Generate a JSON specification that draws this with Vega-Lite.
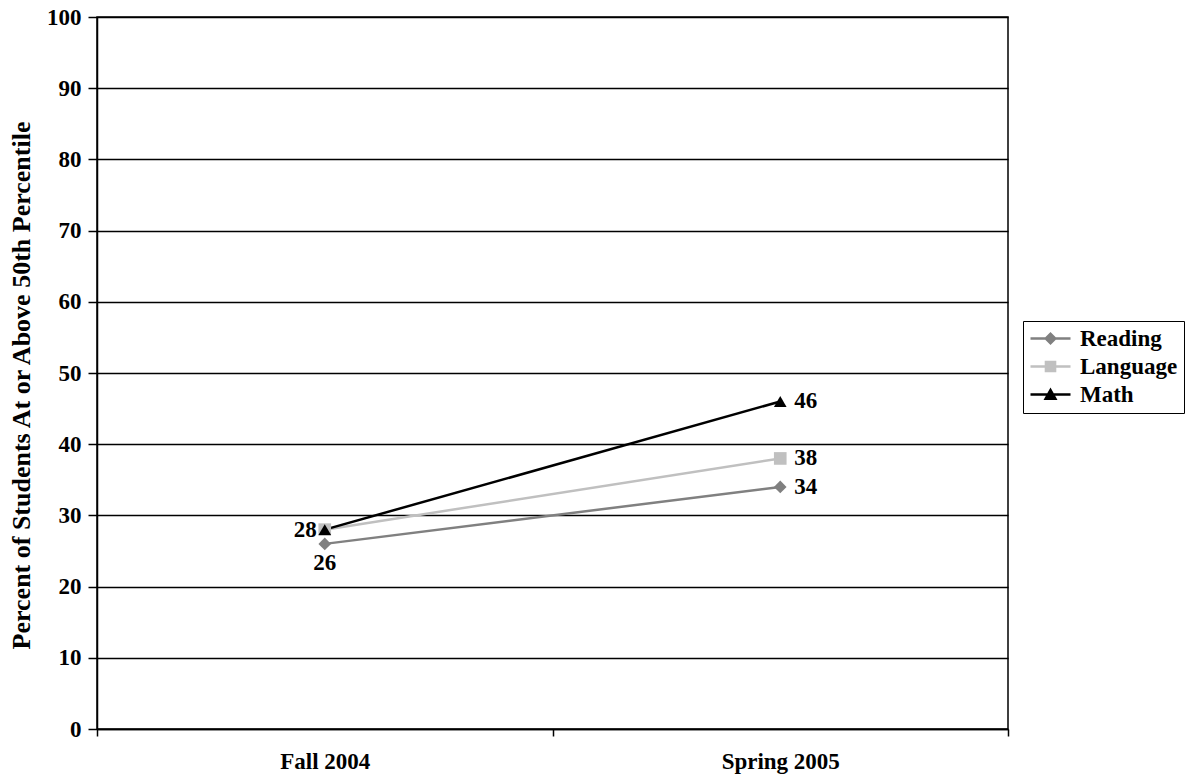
{
  "$schema": "https://vega.github.io/schema/vega-lite/v6.json",
  "width": 911,
  "height": 712,
  "autosize": {"type": "none"},
  "padding": {"left": 97, "top": 17, "right": 182, "bottom": 52},
  "background": "white",
  "config": {
    "font": "Liberation Serif",
    "view": {"stroke": "black", "strokeWidth": 1.5},
    "axis": {
      "labelFont": "Liberation Serif", "labelFontWeight": "bold", "labelFontSize": 23, "labelColor": "black",
      "titleFont": "Liberation Serif", "titleFontWeight": "bold", "titleColor": "black",
      "domainColor": "black", "domainWidth": 1.5, "tickColor": "black", "tickWidth": 1.5,
      "gridColor": "black", "gridWidth": 1.5, "gridOpacity": 1
    },
    "legend": {
      "labelFont": "Liberation Serif", "labelFontWeight": "bold", "labelFontSize": 23, "labelColor": "black"
    }
  },
  "data": {
    "values": [
      {"term": "Fall 2004", "subject": "Reading", "value": 26},
      {"term": "Spring 2005", "subject": "Reading", "value": 34},
      {"term": "Fall 2004", "subject": "Language", "value": 28},
      {"term": "Spring 2005", "subject": "Language", "value": 38},
      {"term": "Fall 2004", "subject": "Math", "value": 28},
      {"term": "Spring 2005", "subject": "Math", "value": 46}
    ]
  },
  "encoding": {
    "x": {
      "field": "term", "type": "nominal", "sort": ["Fall 2004", "Spring 2005"],
      "scale": {"paddingInner": 0, "paddingOuter": 0},
      "axis": {"title": null, "labelAngle": 0, "tickBand": "extent", "tickSize": 7, "labelPadding": 14, "grid": false}
    },
    "y": {
      "field": "value", "type": "quantitative",
      "scale": {"domain": [0, 100], "nice": false},
      "axis": {"title": "Percent of Students At or Above 50th Percentile", "titleFontSize": 26, "titlePadding": 12, "titleY": 368,
               "values": [0, 10, 20, 30, 40, 50, 60, 70, 80, 90, 100], "tickSize": 9, "labelPadding": 7, "grid": true}
    }
  },
  "resolve": {"legend": {"color": "independent", "shape": "independent"}},
  "layer": [
    {
      "mark": {"type": "line", "strokeWidth": 2.5},
      "encoding": {
        "color": {
          "field": "subject", "type": "nominal",
          "scale": {"domain": ["Reading", "Language", "Math"], "range": ["#808080", "#c0c0c0", "#000000"]},
          "legend": {
            "title": null, "orient": "none", "legendX": 926, "legendY": 304,
            "strokeColor": "black", "fillColor": "white", "padding": 6,
            "symbolSize": 400, "labelOffset": 28, "rowPadding": 4,
            "labelFontWeight": "bold", "labelFontSize": 23, "labelFont": "Liberation Serif",
            "encode": {"symbols": {"update": {
              "shape": {"signal": "datum.value === 'Reading' ? 'M-1,-0.12H3V0.12H-1Z M1,-0.65L1.65,0L1,0.65L0.35,0Z' : datum.value === 'Language' ? 'M-1,-0.12H3V0.12H-1Z M0.42,-0.58H1.58V0.58H0.42Z' : 'M-1,-0.12H3V0.12H-1Z M1,-0.7L1.7,0.55H0.3Z'"},
              "fill": {"signal": "datum.value === 'Reading' ? '#808080' : datum.value === 'Language' ? '#c0c0c0' : '#000000'"},
              "strokeWidth": {"value": 0},
              "opacity": {"value": 1}
            }}}
          }
        },
        "detail": {"field": "subject"}
      }
    },
    {
      "mark": {"type": "point", "filled": true, "size": 160, "opacity": 1},
      "encoding": {
        "color": {"field": "subject", "type": "nominal", "legend": null},
        "shape": {"field": "subject", "type": "nominal",
                  "scale": {"domain": ["Reading", "Language", "Math"], "range": ["diamond", "square", "triangle-up"]},
                  "legend": null}
      }
    },
    {
      "transform": [{"filter": "datum.term === 'Spring 2005'"}],
      "mark": {"type": "text", "align": "left", "baseline": "middle", "dx": 14, "fontSize": 23, "fontWeight": "bold", "font": "Liberation Serif"},
      "encoding": {"text": {"field": "value"}, "color": {"value": "black"}}
    },
    {
      "transform": [{"filter": "datum.term === 'Fall 2004' && datum.subject === 'Math'"}],
      "mark": {"type": "text", "align": "right", "baseline": "middle", "dx": -8, "fontSize": 23, "fontWeight": "bold", "font": "Liberation Serif"},
      "encoding": {"text": {"field": "value"}, "color": {"value": "black"}}
    },
    {
      "transform": [{"filter": "datum.term === 'Fall 2004' && datum.subject === 'Reading'"}],
      "mark": {"type": "text", "align": "center", "baseline": "top", "dy": 8, "fontSize": 23, "fontWeight": "bold", "font": "Liberation Serif"},
      "encoding": {"text": {"field": "value"}, "color": {"value": "black"}}
    }
  ]
}
